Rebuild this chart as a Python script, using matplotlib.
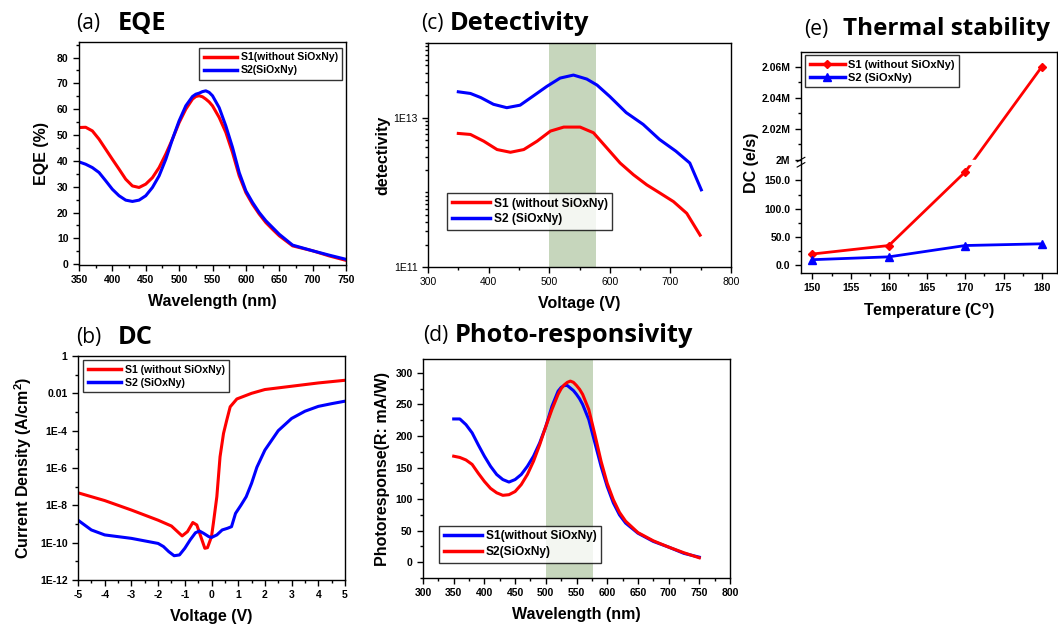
import numpy as np
import matplotlib
matplotlib.use("Agg")
import matplotlib.pyplot as plt
from matplotlib.font_manager import FontProperties
from matplotlib.ticker import MultipleLocator, FixedLocator, FixedFormatter, LogLocator, NullFormatter

plt.rcParams["axes.unicode_minus"] = False

# (a) EQE
eqe_wl = [350, 360, 370, 380, 390, 400, 410, 420, 430, 440, 450, 460, 470, 480, 490, 500, 510, 520, 525, 530, 535, 540,
          545, 550, 560, 570, 580, 590, 600, 610, 620, 630, 640, 650, 670, 700, 725, 750]
eqe_s1 = [52.9, 53.0, 51.6, 48.4, 44.5, 40.6, 36.8, 32.9, 30.3, 29.7, 31.0, 33.5, 37.4, 42.6, 48.4, 54.8, 60.0, 63.9, 64.9, 65.2, 64.8, 63.9,
          62.8, 61.3, 56.8, 51.0, 43.2, 34.2, 27.7, 23.2, 19.4, 16.1, 13.5, 11.0, 7.1, 5.2, 3.2, 1.5]
eqe_s2 = [39.6, 38.7, 37.4, 35.5, 32.3, 29.0, 26.5, 24.8, 24.3, 24.8, 26.5, 29.7, 34.2, 40.6, 48.4, 55.5, 61.3, 64.9, 65.8, 66.2, 66.8, 67.1,
          66.5, 65.2, 60.6, 53.5, 45.2, 35.5, 28.4, 23.9, 20.0, 16.8, 14.2, 11.6, 7.4, 5.2, 3.5, 1.9]

# (b) DC
dc_v1 = [-5, -4, -3, -2, -1.5, -1.1, -0.9, -0.7, -0.55, -0.4, -0.25, -0.15, 0, 0.07, 0.2, 0.32, 0.45, 0.57, 0.7, 0.95,
         1.5, 2, 3, 4, 5]
dc_s1 = [4.7e-8, 1.8e-8, 5.6e-9, 1.6e-9, 7.8e-10, 2.3e-10, 3.9e-10, 1.2e-9, 8.9e-10, 2.1e-10, 5.0e-11, 5.4e-11, 2.1e-10, 1.1e-9,
         2.9e-8, 4.0e-6, 7.1e-5, 3.6e-4, 1.9e-3, 5.0e-3, 1.0e-2, 1.6e-2, 2.4e-2, 3.6e-2, 5.0e-2]
dc_v2 = [-5, -4.5, -4, -3, -2, -1.8, -1.6, -1.4, -1.2, -1.0, -0.8, -0.6, -0.45, -0.3, -0.1, 0, 0.2, 0.4, 0.6, 0.75,
         0.9, 1.1, 1.3, 1.5, 1.7, 2, 2.5, 3, 3.5, 4, 4.5, 5]
dc_s2 = [1.6e-9, 4.8e-10, 2.6e-10, 1.7e-10, 9.1e-11, 6.2e-11, 3.3e-11, 2.0e-11, 2.2e-11, 5.0e-11, 1.4e-10, 3.4e-10, 4.2e-10,
         3.2e-10, 2.1e-10, 1.9e-10, 2.6e-10, 4.8e-10, 5.9e-10, 7.2e-10, 3.7e-9, 1.0e-8, 2.9e-8, 1.5e-7, 1.1e-6, 9.1e-6,
         1.0e-4, 4.5e-4, 1.1e-3, 2.0e-3, 2.8e-3, 3.8e-3]

# (c) Detectivity
det_x1 = [350, 370, 392, 414, 436, 458, 480, 502, 524, 551, 573, 595, 617, 639, 661, 683, 705, 727, 749]
det_s1 = [6.15e12, 5.96e12, 4.84e12, 3.74e12, 3.44e12, 3.74e12, 4.84e12, 6.61e12, 7.48e12, 7.48e12, 6.28e12, 3.94e12,
          2.47e12, 1.72e12, 1.26e12, 9.75e11, 7.52e11, 5.23e11, 2.67e11]
det_x2 = [350, 370, 387, 408, 430, 452, 474, 496, 518, 540, 562, 579, 600, 627, 655, 682, 709, 732, 751]
det_s2 = [2.22e13, 2.11e13, 1.86e13, 1.51e13, 1.36e13, 1.47e13, 1.96e13, 2.62e13, 3.39e13, 3.72e13, 3.29e13, 2.73e13,
          1.92e13, 1.17e13, 8.13e12, 5.11e12, 3.56e12, 2.47e12, 1.08e12]

# (d) Photo-responsivity
pr_wl = [350, 360, 370, 380, 390, 400, 410, 420, 430, 440, 450, 460, 470, 480, 490, 500, 510, 520, 525, 530, 535, 540,
         545, 550, 555, 560, 570, 580, 590, 600, 610, 620, 630, 650, 675, 700, 725, 750]
pr_s1 = [227, 227, 218, 205, 186, 168, 152, 139, 131, 127, 131, 139, 152, 168, 189, 215, 247, 271, 277, 280, 280, 276,
         272, 266, 259, 250, 226, 189, 152, 120, 94, 75, 62, 46, 33, 24, 14, 8]
pr_s2 = [168, 166, 162, 155, 141, 128, 117, 110, 106, 107, 112, 123, 139, 160, 186, 215, 242, 266, 275, 281, 285, 287,
         285, 280, 274, 266, 242, 202, 160, 125, 99, 79, 65, 47, 34, 24, 15, 7]

# (e) Thermal stability
temp = [150, 160, 170, 180]
th_s1 = [20, 35, 165, 2.06e6]
th_s2 = [10, 15, 35, 38]

shade = (500, 577)

W, H = 1058, 625
fig = plt.figure(figsize=(W / 100, H / 100), dpi=100)

TICKF = dict(family="Liberation Sans", weight="bold", size=7.5)
LABF = dict(family="Liberation Sans", weight="bold", size=11.5)


def px_axes(l, t, r, b):
    return fig.add_axes([l / W, 1 - b / H, (r - l) / W, (b - t) / H])


def style(ax):
    ax.tick_params(which="both", direction="out", top=False, right=False, width=1)
    ax.tick_params(which="major", length=4)
    ax.tick_params(which="minor", length=2)
    for s in ax.spines.values():
        s.set_linewidth(1)
    for lab in ax.get_xticklabels() + ax.get_yticklabels():
        lab.set_fontproperties(FontProperties(**TICKF))


def title(x1, x2, y, letter, text, size=18.3):
    fig.text(x1 / W, 1 - y / H, letter, family="Open Sans", size=15, va="center", ha="left")
    fig.text(x2 / W, 1 - y / H, text, family="Open Sans", weight="bold", size=size, va="center", ha="left")


def legend(ax, loc, anchor, size=7.6):
    leg = ax.legend(loc=loc, bbox_to_anchor=anchor, borderaxespad=0, fancybox=False, edgecolor="black",
                    prop=dict(family="Liberation Sans", weight="bold", size=size), handlelength=3.2,
                    labelspacing=0.3, borderpad=0.4, handletextpad=0.3)
    leg.get_frame().set_linewidth(1)
    for h in leg.get_lines():
        h.set_linewidth(2.5)
    return leg


# (a)
ax = px_axes(79, 42, 346, 265)
ax.plot(eqe_wl, eqe_s1, color="red", lw=2.2, label="S1(without SiOxNy)")
ax.plot(eqe_wl, eqe_s2, color="blue", lw=2.2, label="S2(SiOxNy)")
ax.set_xlim(350, 750)
ax.set_ylim(-0.3, 86)
ax.xaxis.set_major_locator(MultipleLocator(50))
ax.xaxis.set_minor_locator(MultipleLocator(25))
ax.yaxis.set_major_locator(MultipleLocator(10))
ax.yaxis.set_minor_locator(MultipleLocator(5))
ax.set_xlabel("Wavelength (nm)", fontdict=LABF, labelpad=6)
ax.set_ylabel("EQE (%)", fontdict=LABF, labelpad=6)
legend(ax, "upper right", (0.985, 0.973))
style(ax)
title(76, 118, 24, "(a)", "EQE")

# (b)
ax = px_axes(78, 356, 345, 580)
ax.semilogy(dc_v1, dc_s1, color="red", lw=2.2, label="S1 (without SiOxNy)")
ax.semilogy(dc_v2, dc_s2, color="blue", lw=2.2, label="S2 (SiOxNy)")
ax.set_xlim(-5, 5)
ax.set_ylim(1e-12, 1)
ax.xaxis.set_major_locator(MultipleLocator(1))
ax.xaxis.set_minor_locator(MultipleLocator(0.5))
ax.yaxis.set_major_locator(FixedLocator([1e-12, 1e-10, 1e-8, 1e-6, 1e-4, 1e-2, 1]))
ax.yaxis.set_major_formatter(FixedFormatter(["1E-12", "1E-10", "1E-8", "1E-6", "1E-4", "0.01", "1"]))
ax.yaxis.set_minor_locator(FixedLocator([1e-11, 1e-9, 1e-7, 1e-5, 1e-3, 1e-1]))
ax.yaxis.set_minor_formatter(NullFormatter())
ax.set_xlabel("Voltage (V)", fontdict=LABF, labelpad=6)
ax.set_ylabel("Current Density (A/cm$^\\mathregular{2}$)", fontdict=LABF, labelpad=4)
legend(ax, "upper left", (0.02, 0.98))
style(ax)
title(76, 118, 338, "(b)", "DC")

# (c)
ax = px_axes(428, 43, 731, 267)
ax.axvspan(shade[0], shade[1], color="#c6d6bc", lw=0)
ax.semilogy(det_x1, det_s1, color="red", lw=2.2, label="S1 (without SiOxNy)")
ax.semilogy(det_x2, det_s2, color="blue", lw=2.2, label="S2 (SiOxNy)")
ax.set_xlim(300, 800)
ax.set_ylim(1e11, 1e14)
ax.xaxis.set_major_locator(MultipleLocator(100))
ax.xaxis.set_minor_locator(MultipleLocator(50))
ax.yaxis.set_major_locator(FixedLocator([1e11, 1e13]))
ax.yaxis.set_major_formatter(FixedFormatter(["1E11", "1E13"]))
ax.yaxis.set_minor_locator(LogLocator(base=10, subs=np.arange(1, 10), numticks=20))
ax.yaxis.set_minor_formatter(NullFormatter())
ax.set_xlabel("Voltage (V)", fontdict=LABF, labelpad=6)
ax.set_ylabel("detectivity", fontdict=LABF, labelpad=2)
legend(ax, "lower left", (0.063, 0.165), size=8.6)
style(ax)
for lab in ax.get_xticklabels() + ax.get_yticklabels():
    lab.set_fontweight("normal")
title(421, 450, 23, "(c)", "Detectivity")

# (d)
ax = px_axes(423, 359, 730, 578)
ax.axvspan(shade[0], shade[1], color="#c6d6bc", lw=0)
ax.plot(pr_wl, pr_s1, color="blue", lw=2.2, label="S1(without SiOxNy)")
ax.plot(pr_wl, pr_s2, color="red", lw=2.2, label="S2(SiOxNy)")
ax.set_xlim(300, 800)
ax.set_ylim(-25, 322)
ax.xaxis.set_major_locator(MultipleLocator(50))
ax.xaxis.set_minor_locator(MultipleLocator(25))
ax.yaxis.set_major_locator(MultipleLocator(50))
ax.yaxis.set_minor_locator(MultipleLocator(25))
ax.set_xlabel("Wavelength (nm)", fontdict=LABF, labelpad=6)
ax.set_ylabel("Photoresponse(R: mA/W)", fontdict=LABF, labelpad=4)
legend(ax, "lower left", (0.052, 0.07), size=8.6)
style(ax)
title(423, 455, 336, "(d)", "Photo-responsivity")

# (e) broken y axis done with a piecewise scale
LOW_TOP = 182.0
HIGH_BOT = 1.9985e6
K = 0.002735
EPS = 1e-3


def fwd(y):
    y = np.asarray(y, dtype=float)
    mid = LOW_TOP + (y - LOW_TOP) / (HIGH_BOT - LOW_TOP) * EPS
    up = LOW_TOP + EPS + (y - HIGH_BOT) * K
    return np.where(y <= LOW_TOP, y, np.where(y >= HIGH_BOT, up, mid))


def inv(v):
    v = np.asarray(v, dtype=float)
    mid = LOW_TOP + (v - LOW_TOP) / EPS * (HIGH_BOT - LOW_TOP)
    up = HIGH_BOT + (v - LOW_TOP - EPS) / K
    return np.where(v <= LOW_TOP, v, np.where(v >= LOW_TOP + EPS, up, mid))


ax = px_axes(801, 52, 1057, 273)
ax.set_yscale("function", functions=(fwd, inv))
ax.plot(temp, th_s1, color="red", lw=2, marker="D", ms=4, label="S1 (without SiOxNy)")
ax.plot(temp, th_s2, color="blue", lw=2, marker="^", ms=6, label="S2 (SiOxNy)")
ax.set_xlim(148.5, 182)
ax.set_ylim(-13.5, 2.0696e6)
ax.xaxis.set_major_locator(MultipleLocator(5))
ax.xaxis.set_minor_locator(MultipleLocator(2.5))
yt = [0, 50, 100, 150, 2.0e6, 2.02e6, 2.04e6, 2.06e6]
ax.yaxis.set_major_locator(FixedLocator(yt))
ax.yaxis.set_major_formatter(FixedFormatter(["0.0", "50.0", "100.0", "150.0", "2M", "2.02M", "2.04M", "2.06M"]))
ax.yaxis.set_minor_locator(FixedLocator([25, 75, 125, 2.01e6, 2.03e6, 2.05e6]))
ax.yaxis.set_minor_formatter(NullFormatter())
ax.set_xlabel("Temperature (C$^\\mathregular{o}$)", fontdict=LABF, labelpad=6)
ax.set_ylabel("DC (e/s)", fontdict=LABF, labelpad=2)
legend(ax, "upper left", (0.016, 0.986), size=8)
style(ax)
ybrk = (fwd(LOW_TOP) - fwd(-13.5)) / (fwd(2.0696e6) - fwd(-13.5))
ax.add_patch(plt.Rectangle((0.6, ybrk - 0.008), 0.15, 0.016, transform=ax.transAxes, color="white", zorder=3))
for dy in (-0.012, 0.012):
    ax.plot([-0.015, 0.015], [ybrk + dy - 0.01, ybrk + dy + 0.01], transform=ax.transAxes, color="black",
            lw=0.8, clip_on=False)
title(804, 843, 29, "(e)", "Thermal stability", size=17.5)

fig.savefig("out.png", dpi=100)
